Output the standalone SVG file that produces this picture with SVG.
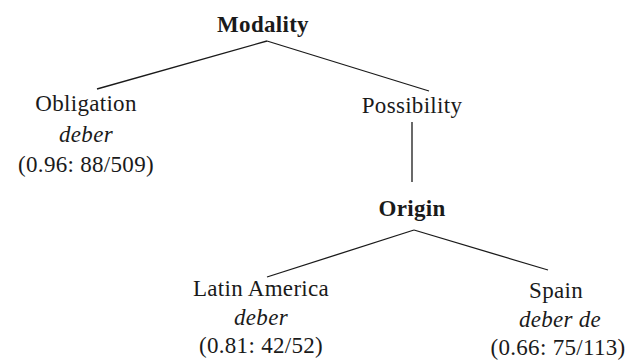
<svg xmlns="http://www.w3.org/2000/svg" width="626" height="362" viewBox="0 0 626 362">
<style>
text{font-family:"Liberation Serif","Times New Roman",serif;font-size:23px;letter-spacing:0.3px;fill:#1a1a1a;text-anchor:middle}
.b{font-weight:bold}
.i{font-style:italic}
.e{stroke:#1a1a1a;stroke-width:1.3;fill:none}
</style>
<rect width="626" height="362" fill="#ffffff"/>
<g id="connectors">
<line class="e" x1="267" y1="41" x2="97" y2="89"/>
<line class="e" x1="267" y1="41" x2="429" y2="91"/>
<line class="e" x1="412" y1="122" x2="412" y2="182"/>
<line class="e" x1="414" y1="230" x2="267" y2="277"/>
<line class="e" x1="414" y1="230" x2="548" y2="270"/>
</g>
<g id="modality"><text class="b" x="263" y="32">Modality</text></g>
<g id="obligation">
<text x="86" y="111">Obligation</text>
<text class="i" x="86" y="142">deber</text>
<text x="86" y="172">(0.96: 88/509)</text>
</g>
<g id="possibility"><text x="412" y="113">Possibility</text></g>
<g id="origin"><text class="b" x="412" y="216">Origin</text></g>
<g id="latin-america">
<text x="261" y="296">Latin America</text>
<text class="i" x="261" y="325">deber</text>
<text x="261" y="353">(0.81: 42/52)</text>
</g>
<g id="spain">
<text x="556" y="298">Spain</text>
<text class="i" x="560" y="327">deber de</text>
<text x="558" y="355">(0.66: 75/113)</text>
</g>
</svg>
